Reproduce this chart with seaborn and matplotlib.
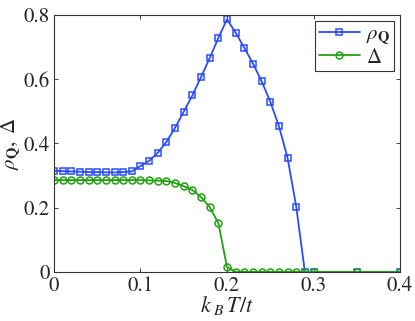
import matplotlib
matplotlib.use('Agg')
import matplotlib.pyplot as plt
import seaborn as sns

# data
T = [0.00, 0.01, 0.02, 0.03, 0.04, 0.05, 0.06, 0.07, 0.08, 0.09,
     0.10, 0.11, 0.12, 0.13, 0.14, 0.15, 0.16, 0.17, 0.18, 0.19,
     0.20, 0.21, 0.22, 0.23, 0.24, 0.25, 0.26, 0.27, 0.28, 0.29,
     0.30, 0.35, 0.40]
rho_Q = [0.315, 0.314, 0.313, 0.312, 0.311, 0.311, 0.310, 0.310, 0.311, 0.313,
         0.330, 0.346, 0.371, 0.405, 0.449, 0.499, 0.550, 0.607, 0.666, 0.729,
         0.787, 0.745, 0.698, 0.649, 0.594, 0.530, 0.454, 0.355, 0.203, 0.0,
         0.0, 0.0, 0.0]
delta = [0.286, 0.286, 0.286, 0.286, 0.286, 0.286, 0.286, 0.286, 0.286, 0.286,
         0.286, 0.285, 0.284, 0.283, 0.277, 0.267, 0.255, 0.233, 0.202, 0.152,
         0.015, 0.0, 0.0, 0.0, 0.0, 0.0, 0.0, 0.0, 0.0, 0.0,
         0.0, 0.0, 0.0]
xticks = [0, 0.1, 0.2, 0.3, 0.4]
xtick_labels = ['0', '0.1', '0.2', '0.3', '0.4']
yticks = [0, 0.2, 0.4, 0.6, 0.8]
ytick_labels = ['0', '0.2', '0.4', '0.6', '0.8']

sns.set_style('ticks')
plt.rcParams['font.family'] = ['STIXGeneral', 'DejaVu Serif']
plt.rcParams['mathtext.fontset'] = 'stix'
plt.rcParams['xtick.direction'] = 'in'
plt.rcParams['ytick.direction'] = 'in'

blue = '#2a4cff'
green = '#22a010'

fig, ax = plt.subplots(figsize=(4.15, 3.21), dpi=100)
fig.subplots_adjust(left=0.130, right=0.964, bottom=0.153, top=0.953)

sns.lineplot(x=T, y=rho_Q, ax=ax, color=blue, marker='s', markersize=5,
             markerfacecolor='none', markeredgecolor=blue, markeredgewidth=1.1,
             linewidth=1.3, label=r'$\rho_{\mathbf{Q}}$')
sns.lineplot(x=T, y=delta, ax=ax, color=green, marker='o', markersize=5,
             markerfacecolor='none', markeredgecolor=green, markeredgewidth=1.1,
             linewidth=1.3, label=r'$\Delta$')

ax.set_xlim(0, 0.4)
ax.set_ylim(0, 0.8)
ax.set_xticks(xticks)
ax.set_xticklabels(xtick_labels)
ax.set_yticks(yticks)
ax.set_yticklabels(ytick_labels)
ax.tick_params(labelsize=15, length=3, width=0.6, top=True, right=True, pad=3)
for s in ax.spines.values():
    s.set_linewidth(0.8)
    s.set_color('#333333')

ax.set_xlabel(r'$k_{\ B}\,T/t$', fontsize=16, labelpad=-1)
ax.set_ylabel(r'$\rho_{\mathbf{Q}},\ \Delta$', fontsize=15)
ax.yaxis.set_label_coords(-0.088, 0.5)

leg = ax.legend(loc='upper right', fontsize=15, frameon=True, fancybox=False,
                edgecolor='black', handlelength=2.0, borderpad=0.15,
                labelspacing=0.05, handletextpad=0.3, borderaxespad=0.3)
leg.get_frame().set_linewidth(0.8)

fig.savefig('out.png', dpi=100)
